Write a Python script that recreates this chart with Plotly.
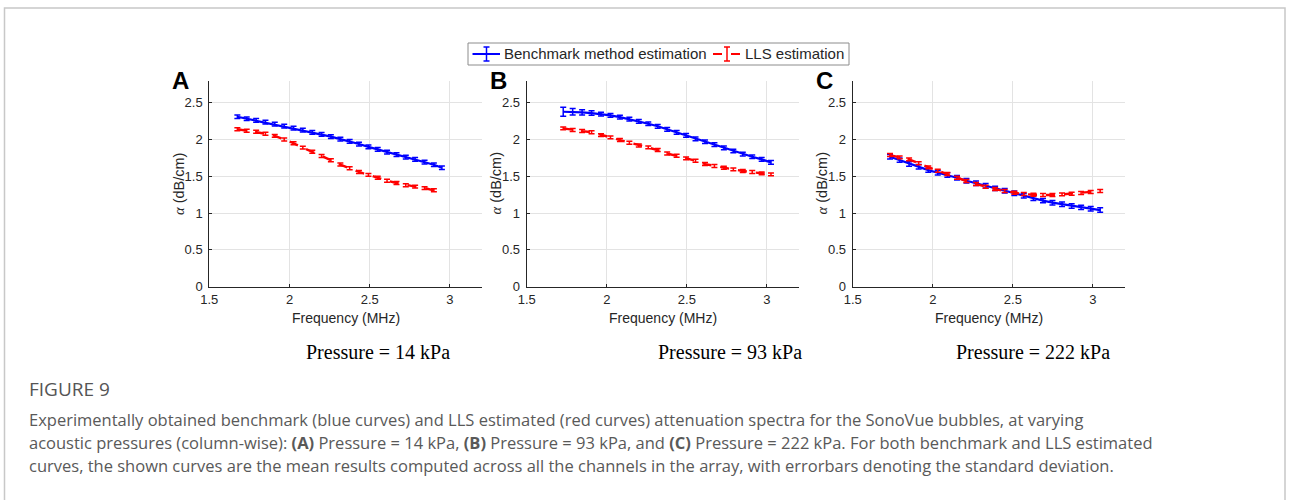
import plotly.graph_objects as go

W, H = 1290, 501

# ---------------- data ----------------
freq_A = [1.675, 1.733, 1.792, 1.850, 1.908, 1.967, 2.025, 2.083, 2.142, 2.200, 2.258, 2.317,
          2.375, 2.433, 2.492, 2.550, 2.608, 2.667, 2.725, 2.783, 2.842, 2.900, 2.950]
bench_A = [2.31, 2.283, 2.26, 2.238, 2.21, 2.183, 2.156, 2.129, 2.097, 2.07, 2.04, 2.006,
           1.975, 1.939, 1.90, 1.867, 1.83, 1.794, 1.762, 1.73, 1.694, 1.658, 1.617]
bench_A_sd = [0.025] * 23
freq_A_lls = freq_A[:22]
lls_A = [2.14, 2.12, 2.107, 2.08, 2.05, 2.00, 1.95, 1.89, 1.835, 1.776, 1.72, 1.66,
         1.61, 1.56, 1.52, 1.48, 1.44, 1.41, 1.38, 1.36, 1.34, 1.31]
lls_A_sd = [0.02] * 22

freq_B = [1.728, 1.787, 1.846, 1.905, 1.964, 2.023, 2.082, 2.141, 2.200, 2.259, 2.318, 2.377,
          2.436, 2.495, 2.554, 2.613, 2.672, 2.731, 2.790, 2.849, 2.908, 2.967, 3.025]
bench_B = [2.378, 2.378, 2.37, 2.36, 2.346, 2.328, 2.305, 2.278, 2.247, 2.215, 2.18, 2.138,
           2.097, 2.057, 2.01, 1.97, 1.93, 1.888, 1.844, 1.803, 1.766, 1.73, 1.69]
bench_B_sd = [0.06, 0.045, 0.035, 0.03, 0.025, 0.025, 0.025, 0.025, 0.025, 0.025, 0.025, 0.025,
              0.025, 0.025, 0.025, 0.025, 0.025, 0.025, 0.025, 0.025, 0.025, 0.025, 0.025]
lls_B = [2.152, 2.129, 2.115, 2.10, 2.06, 2.03, 1.993, 1.957, 1.92, 1.894, 1.857, 1.81,
         1.78, 1.744, 1.712, 1.667, 1.64, 1.617, 1.595, 1.572, 1.558, 1.54, 1.527]
lls_B_sd = [0.02] * 23

freq_C = [1.733, 1.793, 1.852, 1.912, 1.972, 2.031, 2.091, 2.151, 2.210, 2.270, 2.330, 2.389,
          2.449, 2.509, 2.568, 2.628, 2.688, 2.747, 2.807, 2.867, 2.926, 2.986, 3.045]
bench_C = [1.766, 1.72, 1.667, 1.63, 1.585, 1.549, 1.518, 1.48, 1.44, 1.405, 1.373, 1.337,
           1.305, 1.27, 1.237, 1.20, 1.17, 1.142, 1.12, 1.096, 1.078, 1.06, 1.042]
bench_C_sd = [0.03] * 23
lls_C = [1.789, 1.758, 1.731, 1.677, 1.622, 1.576, 1.531, 1.48, 1.436, 1.395, 1.359, 1.327,
         1.30, 1.277, 1.259, 1.25, 1.246, 1.246, 1.255, 1.264, 1.273, 1.287, 1.30]
lls_C_sd = [0.02] * 23

x_ticks = [1.5, 2, 2.5, 3]
x_tick_text = ["1.5", "2", "2.5", "3"]
y_ticks = [0, 0.5, 1, 1.5, 2, 2.5]
y_tick_text = ["0", "0.5", "1", "1.5", "2", "2.5"]

panel_letters = ["A", "B", "C"]
pressure_labels = ["Pressure = 14 kPa", "Pressure = 93 kPa", "Pressure = 222 kPa"]
legend_names = ["Benchmark method estimation", "LLS estimation"]

caption_title = "FIGURE 9"
caption_lines = [
    "Experimentally obtained benchmark (blue curves) and LLS estimated (red curves) attenuation spectra for the SonoVue bubbles, at varying",
    "acoustic pressures (column-wise): <b>(A)</b> Pressure = 14 kPa, <b>(B)</b> Pressure = 93 kPa, and <b>(C)</b> Pressure = 222 kPa. For both benchmark and LLS estimated",
    "curves, the shown curves are the mean results computed across all the channels in the array, with errorbars denoting the standard deviation.",
]

# ---------------- layout helpers ----------------
def px(x):
    return x / W

def py(y):
    return 1 - y / H

BLUE = "#0000FF"
RED = "#FF0000"
AX = "#262626"
GRID = "#e3e3e3"

panel_x = [(209.3, 482.0), (526.7, 799.0), (852.7, 1125.0)]
panel_y = (80.7, 286.7)

fig = go.Figure()

panels = [
    (freq_A, bench_A, bench_A_sd, freq_A_lls, lls_A, lls_A_sd),
    (freq_B, bench_B, bench_B_sd, freq_B, lls_B, lls_B_sd),
    (freq_C, bench_C, bench_C_sd, freq_C, lls_C, lls_C_sd),
]

for i, (fb, b, bsd, fl, l, lsd) in enumerate(panels):
    sfx = "" if i == 0 else str(i + 1)
    xa, ya = "x" + sfx, "y" + sfx
    fig.add_trace(go.Scatter(
        x=fb, y=b, mode="lines", xaxis=xa, yaxis=ya, name=legend_names[0],
        line=dict(color=BLUE, width=2.2),
        error_y=dict(type="data", array=bsd, color=BLUE, thickness=1.5, width=3),
        showlegend=False))
    fig.add_trace(go.Scatter(
        x=fl, y=l, mode="lines", xaxis=xa, yaxis=ya, name=legend_names[1],
        line=dict(color=RED, width=2.4, dash="dash"),
        error_y=dict(type="data", array=lsd, color=RED, thickness=1.5, width=3),
        showlegend=False))

    axis_common = dict(showline=True, linecolor=AX, linewidth=1, ticks="inside", ticklen=3,
                       tickcolor=AX, showgrid=True, gridcolor=GRID, gridwidth=1, zeroline=False,
                       tickfont=dict(family="Liberation Sans, Arial", size=13, color=AX),
                       mirror=False, automargin=False)
    fig.update_layout(**{
        "xaxis" + sfx: dict(domain=[px(panel_x[i][0]), px(panel_x[i][1])], range=[1.5, 3.2],
                            tickvals=x_ticks, ticktext=x_tick_text, anchor=ya,
                            ticklabelstandoff=1, **axis_common),
        "yaxis" + sfx: dict(domain=[py(panel_y[1]), py(panel_y[0])], range=[0, 2.8],
                            tickvals=y_ticks, ticktext=y_tick_text, anchor=xa,
                            ticklabelstandoff=3, **axis_common),
    })

annotations = []
shapes = []

for i in range(3):
    x0, x1 = panel_x[i]
    xc = (x0 + x1) / 2
    # x title
    annotations.append(dict(x=px(xc), y=py(318), xref="paper", yref="paper", text="Frequency (MHz)",
                            showarrow=False, xanchor="center", yanchor="middle",
                            font=dict(family="Liberation Sans, Arial", size=14, color=AX)))
    # y title
    annotations.append(dict(x=px(x0 - 31), y=py(183.7), xref="paper", yref="paper",
                            text="<span style='font-family:Liberation Serif'><i>α</i></span> (dB/cm)",
                            textangle=-90, showarrow=False,
                            xanchor="center", yanchor="middle",
                            font=dict(family="Liberation Sans, Arial", size=14.5, color=AX)))
    # panel letter
    annotations.append(dict(x=px(x0 - 39), y=py(80), xref="paper", yref="paper", text="<b>%s</b>" % panel_letters[i],
                            showarrow=False, xanchor="left", yanchor="middle",
                            font=dict(family="Liberation Sans, Arial", size=24, color="#000000")))

pressure_centers = [378, 729.5, 1033]
for i, t in enumerate(pressure_labels):
    annotations.append(dict(x=px(pressure_centers[i]), y=py(352), xref="paper", yref="paper", text=t,
                            showarrow=False, xanchor="center", yanchor="middle",
                            font=dict(family="Liberation Serif, Times New Roman", size=20, color="#000000")))

# legend (drawn manually)
shapes.append(dict(type="rect", xref="paper", yref="paper", x0=px(468), x1=px(849), y0=py(65), y1=py(43),
                   line=dict(color="#8c8c8c", width=1), fillcolor="white"))
ly = 54
shapes.append(dict(type="line", xref="paper", yref="paper", x0=px(472.5), x1=px(500), y0=py(ly), y1=py(ly),
                   line=dict(color=BLUE, width=2)))
shapes.append(dict(type="line", xref="paper", yref="paper", x0=px(486.5), x1=px(486.5), y0=py(47), y1=py(61),
                   line=dict(color=BLUE, width=1.5)))
for yy in (47, 61):
    shapes.append(dict(type="line", xref="paper", yref="paper", x0=px(483.5), x1=px(489.5), y0=py(yy), y1=py(yy),
                       line=dict(color=BLUE, width=1.5)))
annotations.append(dict(x=px(502), y=py(ly), xref="paper", yref="paper", text=legend_names[0],
                        showarrow=False, xanchor="left", yanchor="middle",
                        font=dict(family="Liberation Sans, Arial", size=15, color=AX)))
shapes.append(dict(type="line", xref="paper", yref="paper", x0=px(713), x1=px(741), y0=py(ly), y1=py(ly),
                   line=dict(color=RED, width=2, dash="dash")))
shapes.append(dict(type="line", xref="paper", yref="paper", x0=px(727), x1=px(727), y0=py(47), y1=py(61),
                   line=dict(color=RED, width=1.5)))
for yy in (47, 61):
    shapes.append(dict(type="line", xref="paper", yref="paper", x0=px(724), x1=px(730), y0=py(yy), y1=py(yy),
                       line=dict(color=RED, width=1.5)))
annotations.append(dict(x=px(743), y=py(ly), xref="paper", yref="paper", text=legend_names[1],
                        showarrow=False, xanchor="left", yanchor="middle",
                        font=dict(family="Liberation Sans, Arial", size=15, color=AX)))

# card border (runs off the bottom edge)
shapes.append(dict(type="rect", xref="paper", yref="paper", x0=px(4.5), x1=px(1285), y0=py(501), y1=py(8),
                   line=dict(color="#c8c8c8", width=1.5), fillcolor="rgba(0,0,0,0)", layer="below"))
shapes.append(dict(type="line", xref="paper", yref="paper", x0=px(2), x1=px(1288), y0=py(501), y1=py(501),
                   line=dict(color="white", width=2), layer="below"))

# caption
annotations.append(dict(x=px(27), y=py(389), xref="paper", yref="paper", text=caption_title,
                        showarrow=False, xanchor="left", yanchor="middle",
                        font=dict(family="Open Sans", size=19, color="#555555")))
for k, line in enumerate(caption_lines):
    annotations.append(dict(x=px(27), y=py(419 + 23 * k), xref="paper", yref="paper", text=line,
                            showarrow=False, xanchor="left", yanchor="middle",
                            font=dict(family="Open Sans", size=16.5, color="#595959")))

fig.update_layout(width=W, height=H, margin=dict(l=0, r=0, t=0, b=0, pad=0, autoexpand=False),
                  paper_bgcolor="white", plot_bgcolor="white",
                  annotations=annotations, shapes=shapes, showlegend=False)

fig.write_html("out.html", config={"displayModeBar": False},
               post_script="document.body.style.margin='0';document.body.style.overflow='hidden';")
